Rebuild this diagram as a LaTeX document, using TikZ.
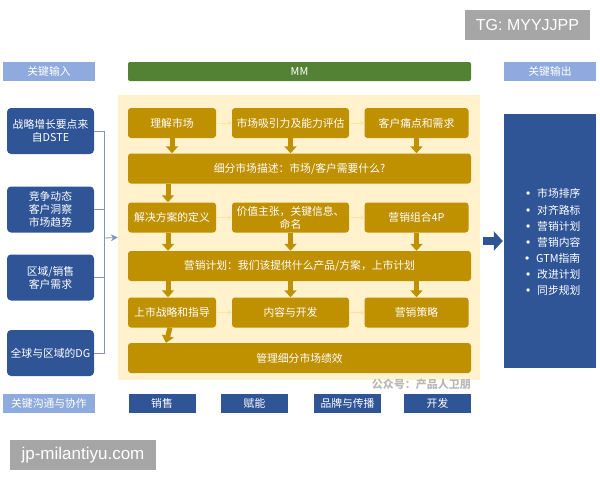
\documentclass[tikz,border=0pt]{standalone}
\usepackage{fontspec}
\setmainfont{Noto Sans CJK SC}
\newfontfamily\wmfont{Liberation Sans}
\usetikzlibrary{arrows.meta}

\definecolor{goldc}{HTML}{BF9000}
\definecolor{creamc}{HTML}{FFF2CC}
\definecolor{darkblue}{HTML}{2F5597}
\definecolor{lightblue}{HTML}{8FAADC}
\definecolor{mmgreen}{HTML}{548235}
\definecolor{wmgray}{HTML}{A6A6A6}
\definecolor{linegray}{HTML}{8497B0}
\definecolor{paleyellow}{HTML}{FFE699}

\newcommand\cnsize{\fontsize{10.8}{13}\selectfont}
\newcommand\dotmark{\makebox[18pt][c]{\wmfont\fontsize{12}{13}\selectfont\textbullet}}

\begin{document}
\begin{tikzpicture}[x=1pt,y=-1pt,
        goldbox/.style={fill=goldc, text=white, rounded corners=3, minimum height=30, inner sep=0, align=center, font=\cnsize},
        inbox/.style={fill=darkblue, text=white, rounded corners=4, minimum width=87, minimum height=46, inner sep=0, align=center, font=\cnsize},
        header/.style={fill=lightblue, text=white, minimum width=92, minimum height=19, inner sep=0, font=\cnsize},
        team/.style={fill=darkblue, text=white, minimum width=67, minimum height=19, inner sep=0, font=\cnsize},
        item/.style={anchor=west, text=white, inner sep=0, font=\cnsize},
        tag/.style={fill=wmgray, text=white, minimum height=30, inner sep=0, font=\wmfont\fontsize{16}{18}\selectfont},
        flow/.style={draw=paleyellow, line width=1, -{Stealth[length=4,width=5]}},
        down/.style={draw=goldc, line width=5, -{Triangle[length=7,width=12]}},
        feed/.style={draw=linegray, line width=0.8}]
        \useasboundingbox (0,0) rectangle (600,480);

        \node[tag, minimum width=125] (tg) at (527.5, 25) {TG: MYYJJPP};
        \node[tag, minimum width=146, font=\wmfont\fontsize{17}{18}\selectfont] (site) at (83, 455) {jp-milantiyu.com};

        \node[header] (inhead) at (49, 71.5) {关键输入};
        \node[fill=mmgreen, text=white, rounded corners=2, minimum width=343, minimum height=19, inner sep=0, font=\cnsize] (mm) at (299.5, 71.5) {MM};
        \node[header] (outhead) at (550, 71.5) {关键输出};

        \node[fill=creamc, minimum width=362, minimum height=285, inner sep=0] (zone) at (299, 237.5) {};

        \node[inbox] (in1) at (50.5, 131) {战略增长要点来\\自DSTE};
        \node[inbox] (in2) at (50.5, 209.5) {竞争动态\\客户洞察\\市场趋势};
        \node[inbox] (in3) at (50.5, 277.5) {区域/销售\\客户需求};
        \node[inbox] (in4) at (50.5, 353) {全球与区域的DG};

        \coordinate (bus) at (104, 238);
        \draw[feed] (in1.east) -| (bus);
        \draw[feed] (in2.east) -| (bus);
        \draw[feed] (in3.east) -| (bus);
        \draw[feed] (in4.east) -| (bus);
        \draw[feed, -{Stealth[length=7,width=7]}] (bus) -- (zone.west);

        \node[goldbox, minimum width=88] (u1) at (172, 123) {理解市场};
        \node[goldbox, minimum width=117] (u2) at (290.5, 123) {市场吸引力及能力评估};
        \node[goldbox, minimum width=104] (u3) at (416.5, 123) {客户痛点和需求};
        \node[goldbox, minimum width=343] (bar1) at (299.5, 168.5) {细分市场描述：市场/客户需要什么?};

        \node[goldbox, minimum width=88] (v1) at (172, 217.5) {解决方案的定义};
        \node[goldbox, minimum width=117] (v2) at (290.5, 217.5) {价值主张，关键信息、\\命名};
        \node[goldbox, minimum width=104] (v3) at (416.5, 217.5) {营销组合4P};
        \node[goldbox, minimum width=343] (bar2) at (299.5, 266) {营销计划：我们该提供什么产品/方案，上市计划};

        \node[goldbox, minimum width=88] (w1) at (172, 312.5) {上市战略和指导};
        \node[goldbox, minimum width=117] (w2) at (290.5, 312.5) {内容与开发};
        \node[goldbox, minimum width=104] (w3) at (416.5, 312.5) {营销策略};
        \node[goldbox, minimum width=343] (bar3) at (299.5, 358) {管理细分市场绩效};

        \draw[flow] (u1) -- (u2);
        \draw[flow] (u2) -- (u3);
        \draw[flow] (v1) -- (v2);
        \draw[flow] (v2) -- (v3);
        \draw[flow] (w1) -- (w2);
        \draw[flow] (w2) -- (w3);

        \draw[down] (u1.south) -- (u1.south |- bar1.north);
        \draw[down] (u2.south) -- (u2.south |- bar1.north);
        \draw[down] (u3.south) -- (u3.south |- bar1.north);
        \draw[down] ([xshift=-4]bar1.south -| v1) -- ([xshift=-4]v1.north);
        \draw[down] ([xshift=-4]v1.south) -- ([xshift=-4]v1.south |- bar2.north);
        \draw[down] (v2.south) -- (v2.south |- bar2.north);
        \draw[down] (v3.south) -- (v3.south |- bar2.north);
        \draw[down] ([xshift=-4]bar2.south -| w1) -- ([xshift=-4]w1.north);
        \draw[down] (bar2.south -| w2) -- (w2.north);
        \draw[down] (bar2.south -| w3) -- (w3.north);
        \draw[down] ([xshift=-2]w1.south) -- ([xshift=-6]w1.south |- bar3.north);

        \node[anchor=east, text=gray!55, inner sep=0, font=\fontsize{11}{13}\selectfont\bfseries] (credit) at (471, 384) {公众号：产品人卫朋};

        \node[fill=darkblue, minimum width=92, minimum height=254, inner sep=0] (out) at (550, 241) {};
        \node[item] (o1) at (519, 193) {\dotmark 市场排序};
        \node[item] (o2) at (519, 210) {\dotmark 对齐路标};
        \node[item] (o3) at (519, 226) {\dotmark 营销计划};
        \node[item] (o4) at (519, 242) {\dotmark 营销内容};
        \node[item] (o5) at (518, 258) {\dotmark GTM指南};
        \node[item] (o6) at (519, 274) {\dotmark 改进计划};
        \node[item] (o7) at (519, 290) {\dotmark 同步规划};

        \draw[draw=darkblue, line width=8, -{Triangle[length=9,width=19]}] ([xshift=3]zone.east |- out) -- ([xshift=-1]out.west);

        \node[header] (talk) at (49, 403.5) {关键沟通与协作};
        \node[team] (sales) at (162, 403.5) {销售};
        \node[team] (enable) at (254.5, 403.5) {赋能};
        \node[team] (brand) at (347.5, 403.5) {品牌与传播};
        \node[team] (dev) at (437.5, 403.5) {开发};

    \end{tikzpicture}
\end{document}
